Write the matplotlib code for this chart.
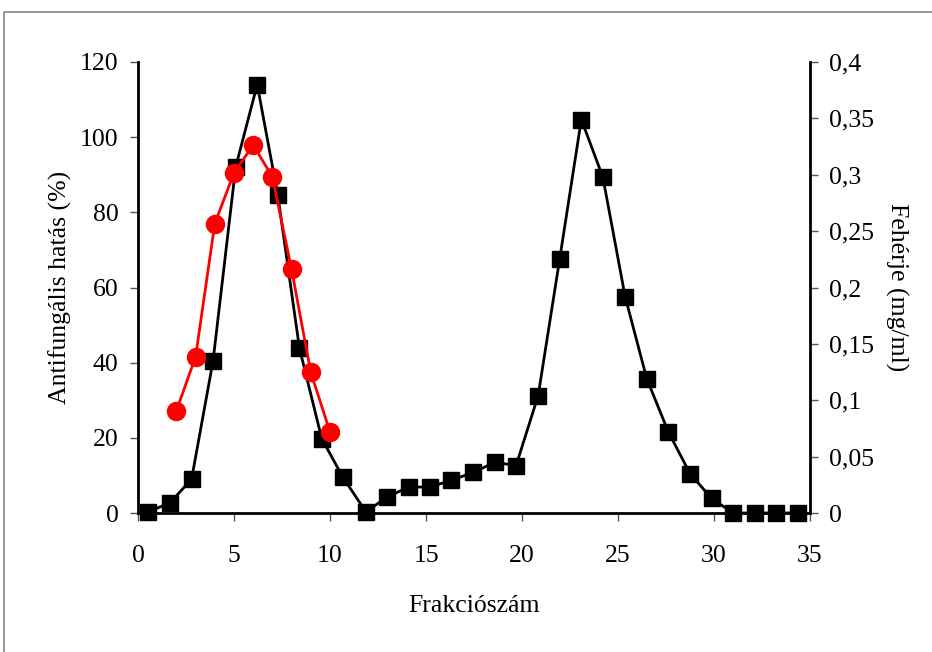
import matplotlib
matplotlib.use("Agg")
import matplotlib.pyplot as plt
from matplotlib.patches import Rectangle
from matplotlib.ticker import FuncFormatter

# Protein (black squares, right axis, mg/ml)
protein_x = [0.53, 1.66, 2.79, 3.91, 5.09, 6.21, 7.28, 8.41, 9.57, 10.66,
             11.87, 12.96, 14.09, 15.2, 16.32, 17.46, 18.59, 19.69, 20.84, 21.96,
             23.09, 24.21, 25.37, 26.5, 27.62, 28.75, 29.87, 31.0, 32.12, 33.24, 34.37]
protein_y = [0.001, 0.009, 0.030, 0.135, 0.307, 0.380, 0.282, 0.146, 0.066, 0.032,
             0.001, 0.014, 0.023, 0.023, 0.029, 0.036, 0.045, 0.042, 0.104, 0.225,
             0.349, 0.298, 0.192, 0.119, 0.072, 0.035, 0.013, 0.0, 0.0, 0.0, 0.0]

# Antifungal activity (red circles, left axis, %)
activity_x = [2, 3, 4, 5, 6, 7, 8, 9, 10]
activity_y = [27.2, 41.6, 77.0, 90.5, 97.9, 89.4, 64.8, 37.4, 21.6]

x_ticks = [0, 5, 10, 15, 20, 25, 30, 35]
left_ticks = [0, 20, 40, 60, 80, 100, 120]
right_ticks = [0, 0.05, 0.1, 0.15, 0.2, 0.25, 0.3, 0.35, 0.4]

plt.rcParams['font.family'] = ['Liberation Serif', 'DejaVu Serif']
FS = 18.5

fig = plt.figure(figsize=(9.32, 6.52), dpi=100)
ax = fig.add_axes([138/932, 1 - 513/652, (810-138)/932, (513-62)/652])
ax2 = ax.twinx()

ax2.plot(protein_x, protein_y, color='black', lw=2, marker='s', ms=12,
         mfc='black', mec='black', clip_on=False)
ax.plot(activity_x, activity_y, color='#ff0000', lw=2, marker='o', ms=13,
        mfc='#ff0000', mec='#ff0000', clip_on=False)

ax.set_zorder(ax2.get_zorder() + 1)
ax.patch.set_visible(False)

ax.set_xlim(0, 35)
ax.set_ylim(0, 120)
ax2.set_ylim(0, 0.4)
ax.set_xticks(x_ticks)
ax.set_yticks(left_ticks)
ax2.set_yticks(right_ticks)
ax2.yaxis.set_major_formatter(FuncFormatter(lambda v, p: ('%g' % round(v, 3)).replace('.', ',')))

for a in (ax, ax2):
    a.spines['top'].set_visible(False)
    for s in ('left', 'right', 'bottom'):
        a.spines[s].set_linewidth(2)
        a.spines[s].set_color('black')
    a.tick_params(direction='out', length=6, width=1, color='#555555', labelsize=FS, pad=8)
ax.tick_params(axis='x', pad=17)
ax.spines['right'].set_visible(False)
ax2.spines['left'].set_visible(False)
ax2.spines['bottom'].set_visible(False)

ax.set_xlabel('Frakciószám', fontsize=FS, labelpad=20)
ax.set_ylabel('Antifungális hatás (%)', fontsize=FS, labelpad=6)
ax2.set_ylabel('Fehérje (mg/ml)', fontsize=FS, rotation=270, labelpad=24)

# outer frame
fig.patches.append(Rectangle((4/932, -0.1), 1.2, 1 - 12/652 + 0.1, transform=fig.transFigure,
                             fill=False, edgecolor='#888888', lw=1.2))

fig.savefig('out.png', dpi=100)
